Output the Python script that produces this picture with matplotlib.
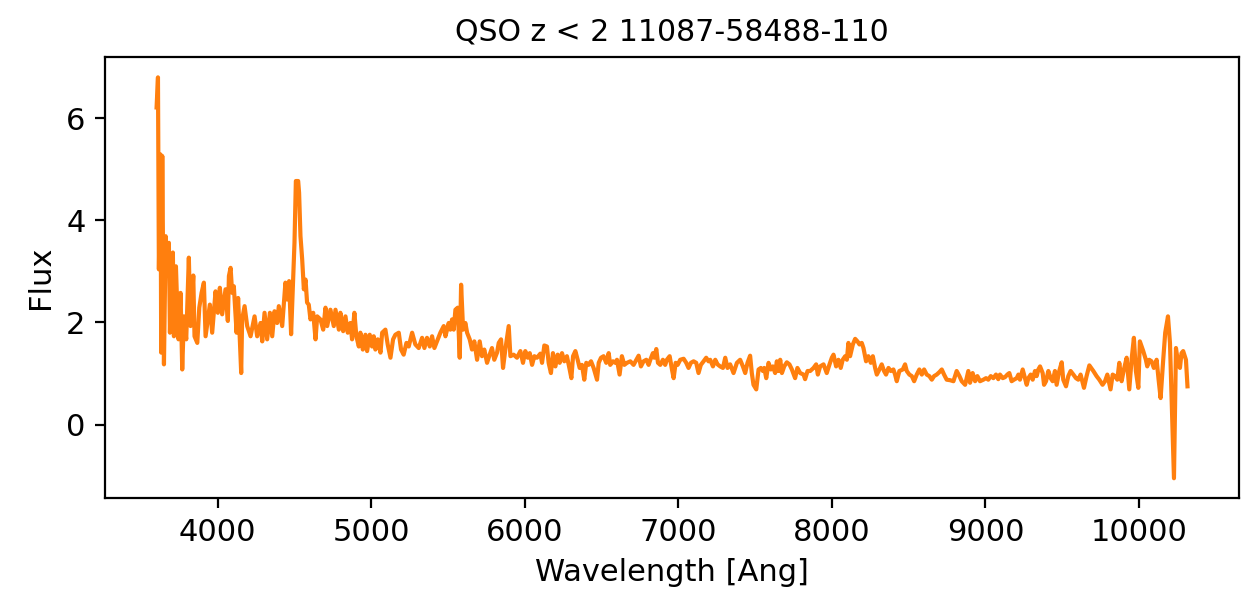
import matplotlib
matplotlib.use("Agg")
import matplotlib.pyplot as plt

# Observed-frame wavelength grid [Angstrom] and flux of spectrum 11087-58488-110
wavelength = [
    3603, 3612, 3618, 3629, 3633, 3640, 3651, 3662, 3668, 3683, 3690, 3698, 3709, 3716, 3729,
    3738, 3746, 3759, 3770, 3781, 3796, 3813, 3824, 3842, 3850, 3868, 3881, 3896, 3911, 3922,
    3950, 3965, 3987, 4002, 4015, 4030, 4052, 4067, 4074, 4085, 4095, 4106, 4124, 4134, 4154,
    4160, 4176, 4193, 4215, 4241, 4258, 4280, 4291, 4306, 4323, 4341, 4356, 4371, 4388, 4399,
    4421, 4442, 4453, 4466, 4479, 4492, 4501, 4510, 4525, 4531, 4540, 4551, 4562, 4573, 4583,
    4594, 4605, 4623, 4638, 4649, 4670, 4688, 4703, 4714,
    4735, 4757, 4768, 4790, 4800, 4818, 4833, 4848, 4865, 4876, 4891, 4904, 4920, 4930, 4946,
    4963, 4974, 4991, 5006, 5017, 5028, 5043, 5061, 5072, 5093, 5108, 5126, 5143, 5158, 5180,
    5195, 5212, 5230, 5245, 5267, 5288, 5310, 5332, 5347, 5364, 5382, 5397, 5412, 5429, 5451,
    5473, 5484, 5505, 5516, 5527, 5538, 5549, 5564, 5577, 5586, 5599, 5614, 5625, 5642, 5657,
    5672, 5690, 5707, 5722, 5737, 5755, 5772, 5787, 5802, 5820, 5831, 5846, 5859, 5874, 5896,
    5907, 5928, 5950,
    5972, 5989, 6004, 6020, 6033, 6048, 6063, 6080, 6102, 6113, 6128, 6145, 6156, 6171, 6184,
    6200, 6215, 6228, 6243, 6258, 6275, 6293, 6304, 6315, 6330, 6345, 6358, 6373, 6388, 6401,
    6416, 6432, 6449, 6471, 6482, 6497, 6514, 6531, 6547, 6557, 6575, 6590, 6601, 6618, 6633,
    6649, 6666, 6688, 6709, 6727, 6742, 6757, 6774, 6792, 6807, 6818, 6835, 6844, 6857, 6868,
    6883, 6900, 6915, 6926, 6944, 6959, 6970, 6983, 6996, 7013, 7035, 7052, 7067, 7082, 7100,
    7117, 7132, 7147, 7165, 7182, 7197,
    7208, 7226, 7241, 7256, 7273, 7291, 7306, 7321, 7338, 7360, 7382, 7403, 7421, 7436, 7451,
    7468, 7479, 7490, 7508, 7523, 7538, 7551, 7560, 7573, 7588, 7603, 7616, 7631, 7642, 7653,
    7664, 7675, 7690, 7707, 7724, 7740, 7761, 7776, 7794, 7816, 7826, 7842, 7859, 7881, 7898,
    7909, 7924, 7946, 7967, 7985, 8000, 8011, 8028, 8043, 8058, 8071, 8087, 8098, 8108, 8119,
    8137, 8152, 8167, 8180, 8195, 8206, 8223, 8238, 8254, 8267, 8282, 8293, 8310, 8325, 8340,
    8353, 8369, 8384, 8401, 8412, 8423, 8440,
    8462, 8477, 8488, 8505, 8521, 8536, 8553, 8570, 8586, 8601, 8618, 8635, 8651, 8666, 8683,
    8701, 8716, 8731, 8748, 8770, 8792, 8813, 8831, 8846, 8868, 8889, 8900, 8917, 8933, 8948,
    8965, 8987, 9004, 9019, 9035, 9052, 9069, 9084, 9095, 9113, 9128, 9143, 9156, 9171, 9186,
    9204, 9215, 9225, 9243, 9258, 9269, 9280, 9295, 9308, 9323, 9334, 9345, 9356, 9373, 9382,
    9395, 9410, 9425, 9438, 9453, 9464, 9481, 9497, 9507, 9525, 9540, 9555, 9573, 9590, 9605,
    9620,
    9642, 9659, 9677, 9703, 9724, 9742, 9763, 9779, 9794, 9815, 9829, 9844, 9859, 9872, 9887,
    9902, 9920, 9937, 9952, 9967, 9980, 9996, 10006, 10028, 10045, 10054, 10067, 10082, 10097,
    10115, 10128, 10141, 10158, 10171, 10189, 10202, 10217, 10228, 10241, 10256, 10267, 10277,
    10288, 10306, 10316,
]

flux = [
    6.21, 6.80, 3.04, 5.29, 1.41, 5.26, 1.18, 3.69, 2.91, 3.56, 1.80, 2.97, 3.37, 1.73, 3.10,
    2.26, 1.67, 2.58, 1.08, 2.12, 1.67, 3.27, 1.93, 2.92, 1.73, 1.60, 2.29, 2.58, 2.78, 1.73,
    2.35, 1.80, 2.61, 2.19, 2.68, 2.16, 2.65, 2.03, 2.91, 3.07, 2.58, 2.71, 1.80, 2.48, 1.01,
    2.06, 2.32, 1.93, 1.73, 2.12, 1.73, 1.99, 1.63, 2.19, 1.67, 2.19, 1.73, 2.22, 1.99, 2.32,
    1.93, 2.78, 2.45, 2.81, 1.77, 2.84, 3.56, 4.77, 4.77, 4.54, 3.69, 3.24, 2.65, 2.84, 2.39,
    2.35, 2.06, 2.19, 1.67, 2.12, 2.06, 1.86, 2.29, 1.93,
    2.25, 1.93, 2.25, 1.86, 2.19, 1.83, 2.12, 1.80, 1.99, 1.67, 2.19, 1.73, 1.53, 1.80, 1.47,
    1.76, 1.44, 1.76, 1.53, 1.73, 1.47, 1.67, 1.41, 1.80, 1.86, 1.57, 1.31, 1.67, 1.76, 1.80,
    1.47, 1.37, 1.60, 1.53, 1.80, 1.57, 1.50, 1.70, 1.50, 1.70, 1.53, 1.73, 1.50, 1.63, 1.80,
    1.93, 1.73, 1.99, 1.86, 2.06, 1.86, 2.25, 2.29, 1.31, 2.74, 1.86, 1.99, 1.80, 1.67, 1.47,
    1.63, 1.27, 1.63, 1.34, 1.47, 1.21, 1.37, 1.50, 1.27, 1.41, 1.60, 1.67, 1.11, 1.47, 1.93,
    1.34, 1.37, 1.31,
    1.44, 1.21, 1.44, 1.31, 1.40, 1.17, 1.34, 1.31, 1.39, 1.21, 1.55, 1.53, 1.21, 1.01, 1.40,
    1.14, 1.37, 1.21, 1.40, 1.24, 1.34, 1.08, 0.91, 1.34, 1.44, 1.27, 1.11, 1.17, 0.88, 1.21,
    1.17, 1.24, 1.11, 0.88, 1.21, 1.31, 1.34, 1.21, 1.40, 1.17, 1.24, 1.21, 1.27, 0.98, 1.34,
    1.17, 1.21, 1.24, 1.17, 1.27, 1.35, 1.14, 1.24, 1.27, 1.17, 1.27, 1.40, 1.31, 1.48, 1.21,
    1.17, 1.27, 1.17, 1.27, 1.34, 1.08, 0.91, 1.21, 1.17, 1.27, 1.29, 1.21, 1.11, 1.21, 1.24,
    1.21, 1.01, 1.17, 1.24, 1.31, 1.24,
    1.27, 1.14, 1.27, 1.18, 1.14, 1.11, 1.31, 1.11, 1.18, 1.01, 1.21, 1.27, 1.14, 1.01, 1.21,
    1.35, 1.01, 0.78, 0.69, 1.08, 1.11, 1.05, 1.11, 0.91, 1.21, 1.08, 1.14, 1.01, 1.24, 1.05,
    1.27, 1.01, 1.14, 1.22, 1.18, 1.08, 0.91, 1.11, 1.01, 0.98, 0.89, 1.05, 1.05, 1.11, 1.18,
    0.98, 1.14, 1.18, 1.01, 1.18, 1.31, 1.37, 1.14, 1.27, 1.11, 1.27, 1.34, 1.27, 1.60, 1.34,
    1.57, 1.68, 1.63, 1.57, 1.60, 1.50, 1.24, 1.34, 1.21, 1.34, 1.11, 0.98, 1.08, 1.18, 1.05,
    0.98, 1.11, 1.05, 1.08, 0.98, 0.85, 1.05,
    1.08, 1.18, 1.05, 0.98, 0.95, 0.85, 0.98, 1.08, 0.98, 1.08, 0.98, 0.95, 0.88, 0.95, 0.98,
    1.03, 1.08, 0.98, 0.88, 0.87, 0.85, 1.05, 0.95, 0.85, 0.78, 1.05, 0.82, 1.01, 0.85, 0.95,
    0.85, 0.88, 0.91, 0.88, 0.95, 0.91, 0.98, 0.89, 0.98, 0.91, 0.93, 0.98, 1.01, 0.85, 0.88,
    0.91, 0.98, 0.88, 1.08, 0.91, 0.78, 0.91, 0.98, 0.88, 1.05, 0.95, 1.08, 1.14, 1.01, 0.78,
    0.85, 1.05, 0.91, 0.85, 1.05, 0.78, 1.05, 1.22, 0.88, 0.75, 0.95, 1.05, 0.98, 0.91, 0.88,
    0.98,
    0.72, 0.95, 1.16, 1.05, 0.95, 0.88, 0.78, 0.85, 0.98, 0.69, 0.98, 0.95, 0.88, 1.21, 0.85,
    1.08, 1.31, 0.69, 1.27, 1.70, 1.05, 0.72, 1.63, 1.44, 1.27, 1.14, 1.27, 1.24, 1.11,
    1.27, 0.88, 0.52, 1.27, 1.80, 2.12, 1.60, 0.10, -1.05, 1.50, 1.18, 1.11, 1.40,
    1.44, 1.27, 0.75,
]

title = "QSO z < 2 11087-58488-110"

fig = plt.figure(figsize=(6.23, 2.945), dpi=200)
ax = fig.add_axes([0.0843, 0.154, 0.9101, 0.7487])
ax.plot(wavelength, flux, color="#ff7f0e", linewidth=1.5)
ax.set_yticks([0, 2, 4, 6])
ax.tick_params(labelsize=11)
ax.set_xlabel("Wavelength [Ang]", fontsize=11)
ax.set_ylabel("Flux", fontsize=11)
ax.set_title(title, fontsize=10.8)
fig.savefig("out.png", dpi=200)
